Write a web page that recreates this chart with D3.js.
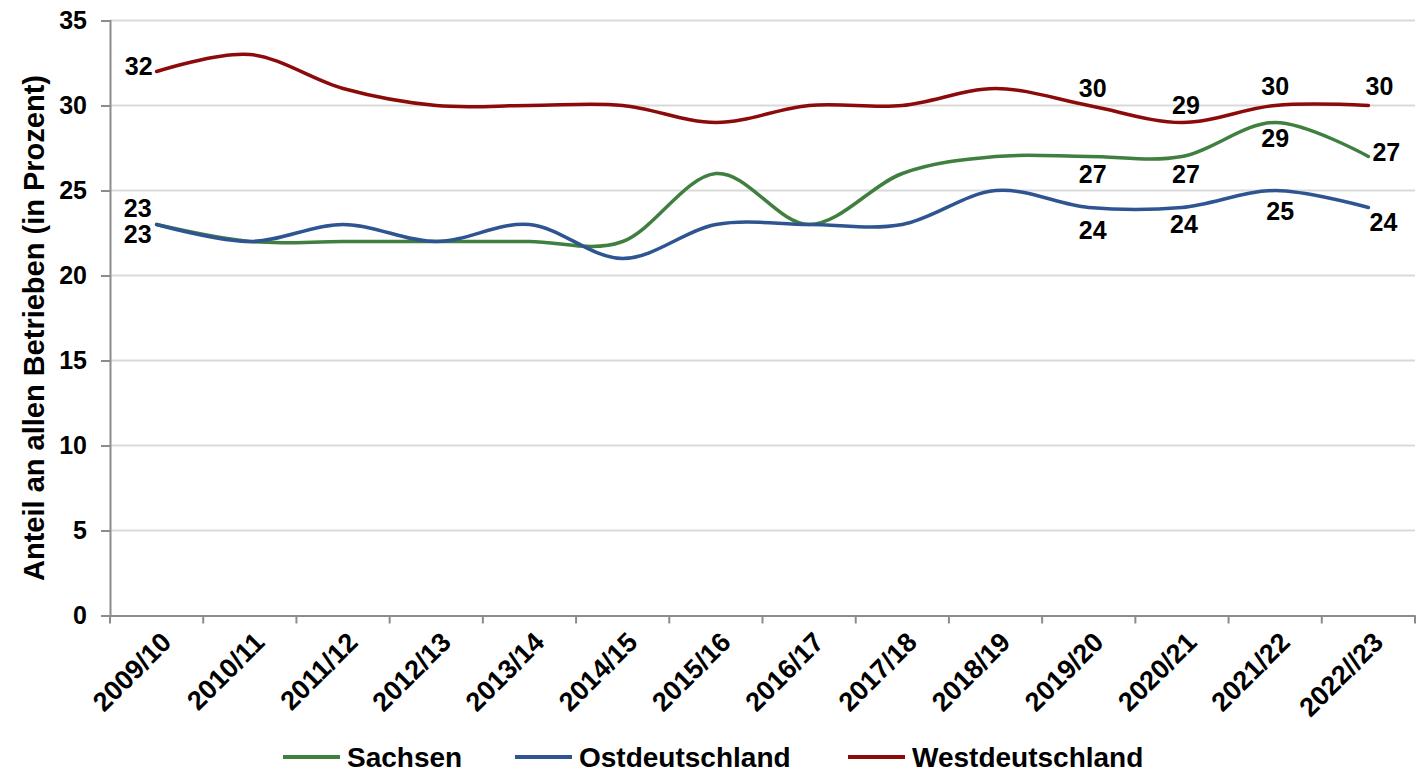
<!DOCTYPE html>
<html lang="de">
<head>
<meta charset="utf-8">
<script src="https://cdn.jsdelivr.net/npm/d3@7"></script>
<style>
  html, body { margin: 0; padding: 0; background: #fff; }
  svg { display: block; font-family: "Liberation Sans", Arial, sans-serif; }
</style>
</head>
<body>
<svg id="chart" width="1425" height="775"></svg>
<script>
// Schuljahre
const categories = ["2009/10", "2010/11", "2011/12", "2012/13", "2013/14", "2014/15", "2015/16",
  "2016/17", "2017/18", "2018/19", "2019/20", "2020/21", "2021/22", "2022//23"];

// Anteil an allen Betrieben in Prozent
const sachsen = [23, 22, 22, 22, 22, 22, 26, 23, 26, 27, 27, 27, 29, 27];
const ostdeutschland = [23, 22, 23, 22, 23, 21, 23, 23, 23, 25, 24, 24, 25, 24];
const westdeutschland = [32, 33, 31, 30, 30, 30, 29, 30, 30, 31, 30, 29, 30, 30];

const yTicks = [0, 5, 10, 15, 20, 25, 30, 35];
const seriesNames = ["Sachsen", "Ostdeutschland", "Westdeutschland"];

const colors = { "Sachsen": "#3f7f3f", "Ostdeutschland": "#2e5591", "Westdeutschland": "#8c0a0a" };

// Which points carry a value label, and where the label sits relative to its point
const labelLayout = {
  "Westdeutschland": [
    { i: 0, dx: -4, dy: -5, anchor: "end" },
    { i: 10, dx: 4, dy: -17, anchor: "middle" },
    { i: 11, dx: 4, dy: -17, anchor: "middle" },
    { i: 12, dx: 0, dy: -19, anchor: "middle" },
    { i: 13, dx: 11, dy: -19, anchor: "middle" }
  ],
  "Sachsen": [
    { i: 0, dx: -5, dy: -16, anchor: "end" },
    { i: 10, dx: 4, dy: 18, anchor: "middle" },
    { i: 11, dx: 4, dy: 18, anchor: "middle" },
    { i: 12, dx: 0, dy: 16, anchor: "middle" },
    { i: 13, dx: 4, dy: -4, anchor: "start" }
  ],
  "Ostdeutschland": [
    { i: 0, dx: -5, dy: 10, anchor: "end" },
    { i: 10, dx: 4, dy: 23, anchor: "middle" },
    { i: 11, dx: 2, dy: 17, anchor: "middle" },
    { i: 12, dx: 5, dy: 21, anchor: "middle" },
    { i: 13, dx: 15, dy: 15, anchor: "middle" }
  ]
};

const series = [
  { name: "Sachsen", values: sachsen },
  { name: "Ostdeutschland", values: ostdeutschland },
  { name: "Westdeutschland", values: westdeutschland }
];

const svg = d3.select("#chart");
const plot = { left: 110, right: 1415, top: 20.5, bottom: 615.5 };

const x = d3.scaleBand().domain(categories).range([plot.left, plot.right]).padding(0);
const cx = c => x(c) + x.bandwidth() / 2;
const y = d3.scaleLinear().domain([0, 35]).range([plot.bottom, plot.top]);

// Horizontal gridlines
svg.append("g")
  .selectAll("line")
  .data(yTicks.filter(t => t > 0))
  .join("line")
  .attr("x1", plot.left).attr("x2", plot.right)
  .attr("y1", d => y(d)).attr("y2", d => y(d))
  .attr("stroke", "#d9d9d9").attr("stroke-width", 2);

// Y axis
const yAxis = svg.append("g")
  .attr("transform", `translate(${plot.left},0)`)
  .call(d3.axisLeft(y).tickValues(yTicks).tickSize(9).tickPadding(14));
yAxis.select(".domain").attr("stroke", "#8c8c8c").attr("stroke-width", 2);
yAxis.selectAll(".tick line").attr("stroke", "#8c8c8c").attr("stroke-width", 2);
yAxis.selectAll(".tick text")
  .attr("fill", "#000").style("font-size", "25px").style("font-weight", "bold")
  .style("font-family", "'Liberation Sans', Arial, sans-serif");

// X axis
const xAxis = svg.append("g")
  .attr("transform", `translate(0,${plot.bottom})`)
  .call(d3.axisBottom(x).tickSize(0).tickFormat(""));
xAxis.select(".domain").attr("stroke", "#8c8c8c").attr("stroke-width", 2);
xAxis.selectAll(".tick").remove();
// Tick marks on category boundaries
const bounds = categories.map(c => x(c)).concat([plot.right]);
xAxis.selectAll("line.bound")
  .data(bounds)
  .join("line")
  .attr("class", "bound")
  .attr("x1", d => d).attr("x2", d => d)
  .attr("y1", 0).attr("y2", 8)
  .attr("stroke", "#8c8c8c").attr("stroke-width", 2);
// Rotated category labels
svg.append("g")
  .selectAll("text")
  .data(categories)
  .join("text")
  .attr("transform", d => `translate(${cx(d) + 3},${plot.bottom + 15}) rotate(-45)`)
  .attr("text-anchor", "end")
  .attr("dy", "0.7em")
  .style("font-size", "27px").style("font-weight", "bold")
  .attr("fill", "#000")
  .text(d => d);

// Axis title
svg.append("text")
  .attr("transform", `translate(44,${(plot.top + plot.bottom) / 2 + 10}) rotate(-90)`)
  .attr("text-anchor", "middle")
  .style("font-size", "29px").style("font-weight", "bold")
  .attr("fill", "#000")
  .text("Anteil an allen Betrieben (in Prozent)");

// Smoothed lines
const line = d3.line()
  .x((d, i) => cx(categories[i]))
  .y(d => y(d))
  .curve(d3.curveCardinal.tension(0));

svg.append("g")
  .selectAll("path")
  .data(series)
  .join("path")
  .attr("d", d => line(d.values))
  .attr("fill", "none")
  .attr("stroke", d => colors[d.name])
  .attr("stroke-width", 3.5)
  .attr("stroke-linecap", "round");

// Value labels
series.forEach(s => {
  svg.append("g")
    .selectAll("text")
    .data(labelLayout[s.name])
    .join("text")
    .attr("x", d => cx(categories[d.i]) + d.dx)
    .attr("y", d => y(s.values[d.i]) + d.dy)
    .attr("dy", "0.35em")
    .attr("text-anchor", d => d.anchor)
    .style("font-size", "25px").style("font-weight", "bold")
    .attr("fill", "#000")
    .text(d => s.values[d.i]);
});

// Legend
const legendX = { "Sachsen": 283, "Ostdeutschland": 515, "Westdeutschland": 848 };
const legend = svg.append("g").attr("transform", "translate(0,757)");
seriesNames.forEach(n => {
  const g = legend.append("g").attr("transform", `translate(${legendX[n]},0)`);
  g.append("line").attr("x1", 0).attr("x2", 57).attr("y1", 0).attr("y2", 0)
    .attr("stroke", colors[n]).attr("stroke-width", 4);
  g.append("text").attr("x", 64).attr("dy", "0.36em")
    .style("font-size", "28px").style("font-weight", "bold")
    .attr("fill", "#000").text(n);
});
</script>
</body>
</html>
